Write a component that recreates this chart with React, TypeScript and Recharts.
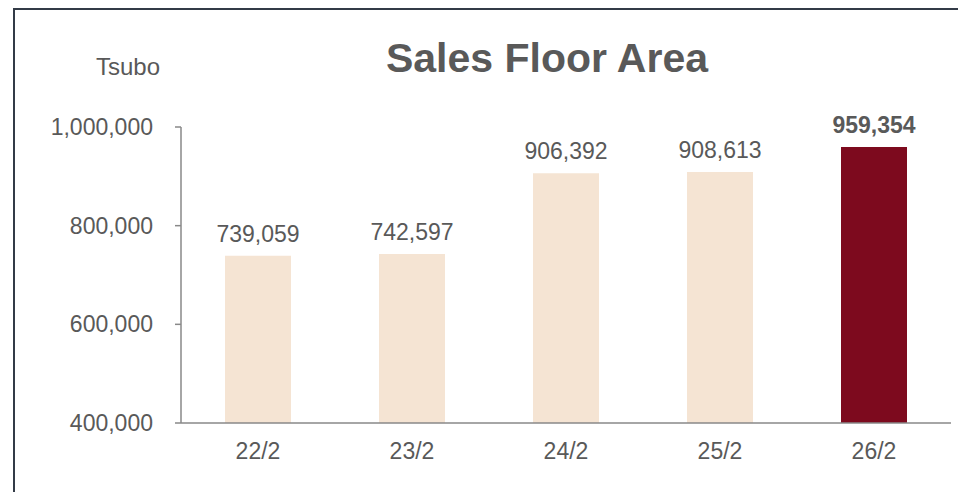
import { BarChart, Bar, XAxis, YAxis, Cell, LabelList } from 'recharts'

const years = ['22/2', '23/2', '24/2', '25/2', '26/2']
const area = [739059, 742597, 906392, 908613, 959354]
const yTicks = [400000, 600000, 800000, 1000000]

const data = years.map((y, i) => ({ year: y, area: area[i] }))

const FONT = '"Liberation Sans", Arial, sans-serif'
const TEXT = '#595959'
const BEIGE = '#F5E4D3'
const DARK = '#7D0A1E'

function fmt(v: number) {
  return v.toLocaleString('en-US')
}

function ValueLabel(props: any) {
  const { x, y, width, value, index } = props
  const last = index === area.length - 1
  return (
    <text x={x + width / 2} y={y - 14} textAnchor="middle"
      fontSize={23} fontFamily={FONT} fill={TEXT} fontWeight={last ? 700 : 400}>
      {fmt(value)}
    </text>
  )
}

export default function App() {
  return (
    <div style={{ position: 'absolute', left: 0, top: 0, width: 958, height: 492, background: '#fff', fontFamily: FONT }}>
      {/* frame */}
      <div style={{ position: 'absolute', left: 13, top: 8, right: 0, bottom: 0,
        borderLeft: '2px solid #333b47', borderTop: '2px solid #333b47' }} />
      <div style={{ position: 'absolute', left: 0, width: 1094, top: 38, fontSize: 41, lineHeight: '41px',
        fontWeight: 700, color: TEXT, textAlign: 'center' }}>
        Sales Floor Area
      </div>
      <div style={{ position: 'absolute', left: 78, width: 100, top: 55, fontSize: 24, lineHeight: '24px',
        color: TEXT, textAlign: 'center' }}>
        Tsubo
      </div>
      <div style={{ position: 'absolute', left: 0, top: 0 }}>
        <BarChart width={958} height={492} data={data}
          margin={{ top: 127, right: 7, bottom: 0, left: 0 }}>
          <XAxis dataKey="year" height={69} tickLine={false} tickSize={0} tickMargin={20}
            axisLine={{ stroke: '#898989', strokeWidth: 1.5 }}
            tick={{ fontSize: 23, fill: TEXT, fontFamily: FONT }} />
          <YAxis width={181} domain={[400000, 1000000]} ticks={yTicks} allowDataOverflow
            tickFormatter={fmt} tickSize={6} tickMargin={22}
            axisLine={{ stroke: '#898989', strokeWidth: 1.5 }}
            tickLine={{ stroke: '#898989', strokeWidth: 1.5 }}
            tick={{ fontSize: 23, fill: TEXT, fontFamily: FONT }} />
          <Bar dataKey="area" barSize={66} isAnimationActive={false}>
            {data.map((d, i) => (
              <Cell key={d.year} fill={i === data.length - 1 ? DARK : BEIGE} />
            ))}
            <LabelList dataKey="area" content={ValueLabel} />
          </Bar>
        </BarChart>
      </div>
    </div>
  )
}
